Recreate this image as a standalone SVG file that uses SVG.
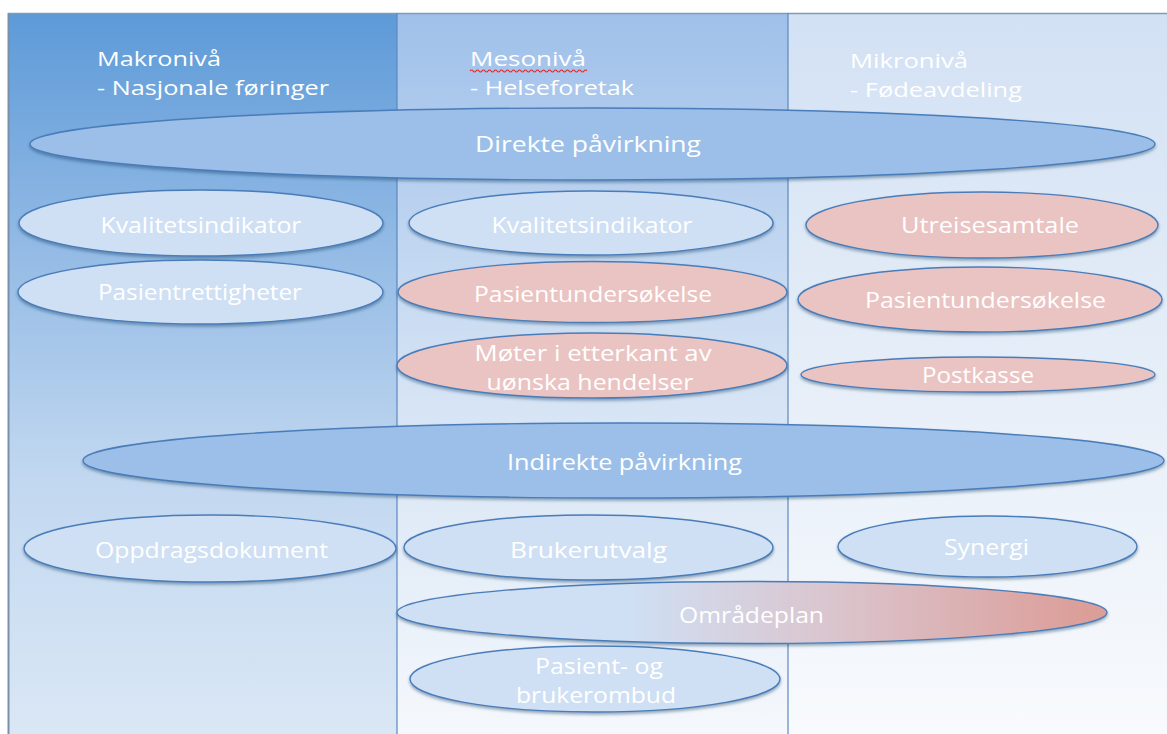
<svg xmlns="http://www.w3.org/2000/svg" width="1167" height="734" viewBox="0 0 1167 734">
  <defs>
    <linearGradient id="col1" x1="0" y1="0" x2="0" y2="1">
      <stop offset="0" stop-color="#5d9ad8"/>
      <stop offset="0.35" stop-color="#97bde6"/>
      <stop offset="0.65" stop-color="#c2d8f0"/>
      <stop offset="1" stop-color="#dae7f5"/>
    </linearGradient>
    <linearGradient id="col2" x1="0" y1="0" x2="0" y2="1">
      <stop offset="0" stop-color="#9fc0ea"/>
      <stop offset="0.5" stop-color="#d3e2f4"/>
      <stop offset="1" stop-color="#f5f8fc"/>
    </linearGradient>
    <linearGradient id="col3" x1="0" y1="0" x2="0" y2="1">
      <stop offset="0" stop-color="#d2e1f4"/>
      <stop offset="0.5" stop-color="#e6eef8"/>
      <stop offset="1" stop-color="#f8fafd"/>
    </linearGradient>
    <linearGradient id="omr" x1="0" y1="0" x2="1" y2="0">
      <stop offset="0" stop-color="#cfdff4"/>
      <stop offset="0.33" stop-color="#cfdff4"/>
      <stop offset="0.6" stop-color="#dac6cf"/>
      <stop offset="0.97" stop-color="#dc9e99"/>
    </linearGradient>
    <filter id="sh" x="-5%" y="-30%" width="110%" height="170%">
      <feDropShadow dx="0" dy="2" stdDeviation="1.6" flood-color="#1f3f66" flood-opacity="0.45"/>
    </filter>
  </defs>
  <style>
    .el { stroke: #4a7dba; stroke-width: 1.4; filter: url(#sh); }
    .big { fill: #9bbfe8; }
    .lb { fill: #cfdff4; }
    .pk { fill: #eac4c2; }
    .t { font-family: "Open Sans", "Noto Sans", "Liberation Sans", sans-serif; fill: #ffffff; text-anchor: middle; font-size: 22px; font-weight: 500; }
    .h { font-family: "Open Sans", "Noto Sans", "Liberation Sans", sans-serif; fill: #ffffff; font-size: 20px; font-weight: 500; }
  </style>

  <rect x="0" y="0" width="1167" height="734" fill="#ffffff"/>

  <g id="columns">
    <rect x="8" y="13" width="389" height="721" fill="url(#col1)"/>
    <rect x="397" y="13" width="391" height="721" fill="url(#col2)"/>
    <rect x="788" y="13" width="379" height="721" fill="url(#col3)"/>
    <line x1="8" y1="13.5" x2="1167" y2="13.5" stroke="#7f9abb" stroke-width="1.5"/>
    <line x1="8.5" y1="13" x2="8.5" y2="734" stroke="#7a90aa" stroke-width="2"/>
    <line x1="397" y1="13" x2="397" y2="734" stroke="#5d88c0" stroke-width="1.2"/>
    <line x1="788" y1="13" x2="788" y2="734" stroke="#5d88c0" stroke-width="1.2"/>
  </g>

  <g id="headers">
    <text class="h" x="97" y="66" textLength="124" lengthAdjust="spacingAndGlyphs">Makronivå</text>
    <text class="h" x="97" y="95" textLength="232" lengthAdjust="spacingAndGlyphs">- Nasjonale føringer</text>
    <text class="h" x="470" y="66" textLength="116" lengthAdjust="spacingAndGlyphs">Mesonivå</text>
    <path d="M470 71 q1.5 -2 3 0 t3 0 t3 0 t3 0 t3 0 t3 0 t3 0 t3 0 t3 0 t3 0 t3 0 t3 0 t3 0 t3 0 t3 0 t3 0 t3 0 t3 0 t3 0 t3 0 t3 0 t3 0 t3 0 t3 0 t3 0 t3 0 t3 0 t3 0 t3 0 t3 0 t3 0 t3 0 t3 0 t3 0 t3 0 t3 0 t3 0 t3 0 t3 0" fill="none" stroke="#e02a2a" stroke-width="1.2"/>
    <text class="h" x="470" y="95" textLength="164" lengthAdjust="spacingAndGlyphs">- Helseforetak</text>
    <text class="h" x="850" y="68" textLength="118" lengthAdjust="spacingAndGlyphs">Mikronivå</text>
    <text class="h" x="850" y="97" textLength="172" lengthAdjust="spacingAndGlyphs">- Fødeavdeling</text>
  </g>

  <g id="connectors"/>

  <g id="direkte">
    <ellipse class="el big" cx="592.5" cy="144" rx="562.5" ry="36"/>
    <text class="t" x="588" y="152" font-size="21" textLength="226" lengthAdjust="spacingAndGlyphs">Direkte påvirkning</text>
  </g>

  <g id="kval-makro">
    <ellipse class="el lb" cx="201" cy="223" rx="182" ry="33"/>
    <text class="t" x="201" y="233" textLength="201" lengthAdjust="spacingAndGlyphs">Kvalitetsindikator</text>
  </g>
  <g id="pasientrettigheter">
    <ellipse class="el lb" cx="200.5" cy="292" rx="182.5" ry="32"/>
    <text class="t" x="200" y="300" textLength="204" lengthAdjust="spacingAndGlyphs">Pasientrettigheter</text>
  </g>

  <g id="kval-meso">
    <ellipse class="el lb" cx="591" cy="223" rx="182" ry="32"/>
    <text class="t" x="592" y="233" textLength="201" lengthAdjust="spacingAndGlyphs">Kvalitetsindikator</text>
  </g>
  <g id="pasientund-meso">
    <ellipse class="el pk" cx="592.5" cy="292" rx="194.5" ry="30.5"/>
    <text class="t" x="593" y="302" textLength="238" lengthAdjust="spacingAndGlyphs">Pasientundersøkelse</text>
  </g>
  <g id="moter">
    <ellipse class="el pk" cx="592" cy="365.5" rx="195" ry="32.5"/>
    <text class="t" x="593" y="361" font-size="21" textLength="237" lengthAdjust="spacingAndGlyphs">Møter i etterkant av</text>
    <text class="t" x="590" y="390" font-size="21" textLength="207" lengthAdjust="spacingAndGlyphs">uønska hendelser</text>
  </g>

  <g id="utreisesamtale">
    <ellipse class="el pk" cx="982" cy="225" rx="176" ry="33"/>
    <text class="t" x="990" y="233" textLength="178" lengthAdjust="spacingAndGlyphs">Utreisesamtale</text>
  </g>
  <g id="pasientund-mikro">
    <ellipse class="el pk" cx="980" cy="299.5" rx="182" ry="32.5"/>
    <text class="t" x="985.5" y="308" textLength="241" lengthAdjust="spacingAndGlyphs">Pasientundersøkelse</text>
  </g>
  <g id="postkasse">
    <ellipse class="el pk" cx="978" cy="374.5" rx="177" ry="17.5"/>
    <text class="t" x="978" y="383" font-size="21" textLength="112" lengthAdjust="spacingAndGlyphs">Postkasse</text>
  </g>

  <g id="indirekte">
    <ellipse class="el big" cx="623.5" cy="460.5" rx="540.5" ry="37.5"/>
    <text class="t" x="624.5" y="470" font-size="21" textLength="235" lengthAdjust="spacingAndGlyphs">Indirekte påvirkning</text>
  </g>

  <g id="oppdragsdokument">
    <ellipse class="el lb" cx="210" cy="548.5" rx="186" ry="33.5"/>
    <text class="t" x="211.5" y="558" textLength="233" lengthAdjust="spacingAndGlyphs">Oppdragsdokument</text>
  </g>
  <g id="brukerutvalg">
    <ellipse class="el lb" cx="588.5" cy="547.5" rx="184.5" ry="32.5"/>
    <text class="t" x="588.5" y="558" textLength="157" lengthAdjust="spacingAndGlyphs">Brukerutvalg</text>
  </g>
  <g id="synergi">
    <ellipse class="el lb" cx="987.5" cy="546.5" rx="149.5" ry="30.5"/>
    <text class="t" x="986.5" y="555" textLength="85" lengthAdjust="spacingAndGlyphs">Synergi</text>
  </g>

  <g id="omradeplan">
    <ellipse class="el" fill="url(#omr)" cx="752" cy="612.5" rx="355" ry="31"/>
    <text class="t" x="751.5" y="623" textLength="145" lengthAdjust="spacingAndGlyphs">Områdeplan</text>
  </g>
  <g id="ombud">
    <ellipse class="el lb" cx="595" cy="679" rx="185" ry="33"/>
    <text class="t" x="599" y="674" font-size="21" textLength="128" lengthAdjust="spacingAndGlyphs">Pasient- og</text>
    <text class="t" x="596" y="703" font-size="21" textLength="160" lengthAdjust="spacingAndGlyphs">brukerombud</text>
  </g>
</svg>
